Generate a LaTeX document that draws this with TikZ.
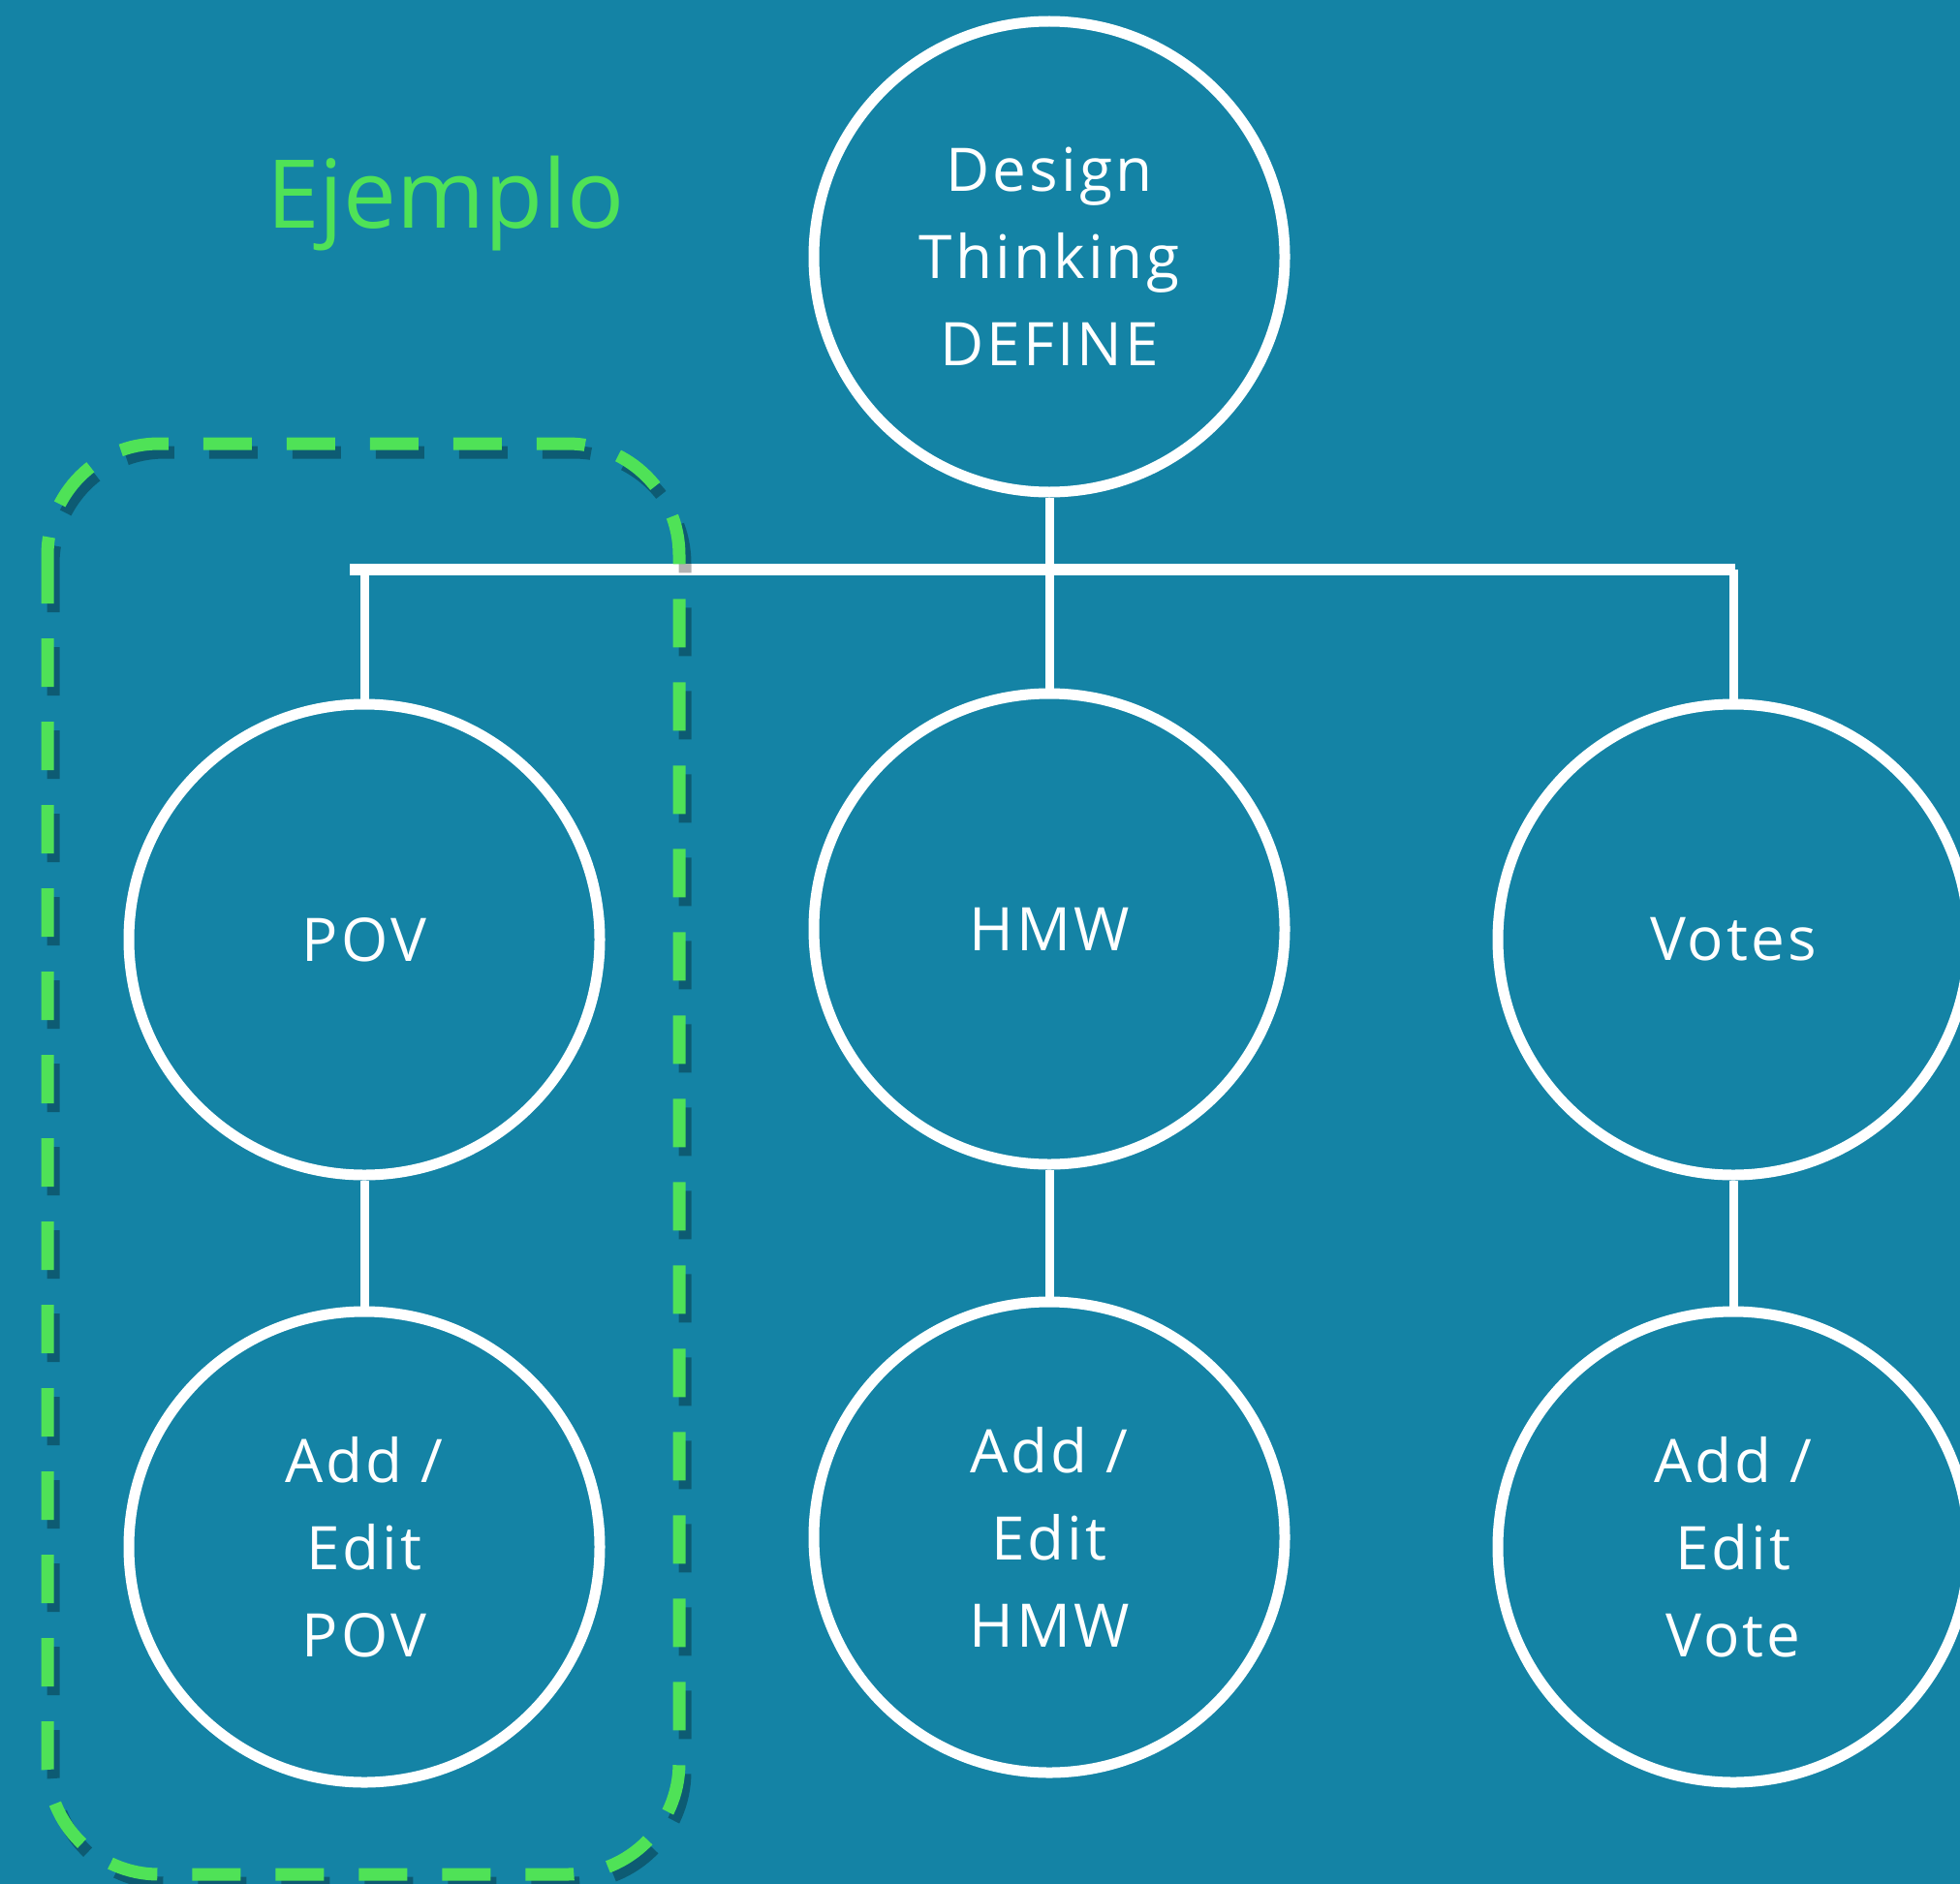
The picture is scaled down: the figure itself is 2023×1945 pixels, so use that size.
\documentclass[tikz,border=0pt]{standalone}
\usepackage{fontspec}
\setmainfont[LetterSpace=5]{Open Sans}
\newfontfamily\plainfont{Open Sans}
\definecolor{dtblue}{HTML}{1483A5}
\definecolor{dtgreen}{HTML}{4FE257}

\begin{document}
\begin{tikzpicture}[x=1pt, y=-1pt,
  bubble/.style={circle, draw=white, line width=11pt, minimum size=486pt,
    text=white, align=center, font=\fontsize{62}{90}\selectfont},
  link/.style={draw=white, line width=9pt},
  frame/.style={line width=13pt, dash pattern=on 50pt off 36pt, rounded corners=115pt}]
% background
\fill[dtblue] (0,0) rectangle (2023,1945);
\clip (0,0) rectangle (2023,1945);
\useasboundingbox (0,0) rectangle (2023,1945);
% label
\node[anchor=base, text=dtgreen, font=\plainfont\fontsize{98}{120}\selectfont] (ejemplo) at (460,236) {Ejemplo};
% bubbles
\node[bubble] (define) at (1083,265) {Design\\Thinking\\DEFINE};
\node[bubble] (pov) at (376,970) {POV};
\node[bubble] (hmw) at (1083,959) {HMW};
\node[bubble] (votes) at (1789,970) {Votes};
\node[bubble] (addpov) at (376,1597) {Add /\\Edit\\POV};
\node[bubble] (addhmw) at (1083,1587) {Add /\\Edit\\HMW};
\node[bubble] (addvote) at (1789,1597) {Add /\\Edit\\Vote};
% tree lines
\coordinate (barL) at (361,588);
\coordinate (barR) at (1791,588);
\draw[link, line width=12pt] (barL) -- (barR);
\draw[link] (define.south) -- (define.south |- barL);
\draw[link] (pov.north) -- (pov.north |- barL);
\draw[link] (hmw.north) -- (hmw.north |- barL);
\draw[link] (votes.north) -- (votes.north |- barL);
\draw[link] (pov) -- (addpov);
\draw[link] (hmw) -- (addhmw);
\draw[link] (votes) -- (addvote);
% dashed example box, with its shadow
\draw[frame, black, opacity=.3, xshift=6pt, yshift=-9pt] (49,458) rectangle (701,1935);
\draw[frame, dtgreen] (49,458) rectangle (701,1935);
\end{tikzpicture}
\end{document}
